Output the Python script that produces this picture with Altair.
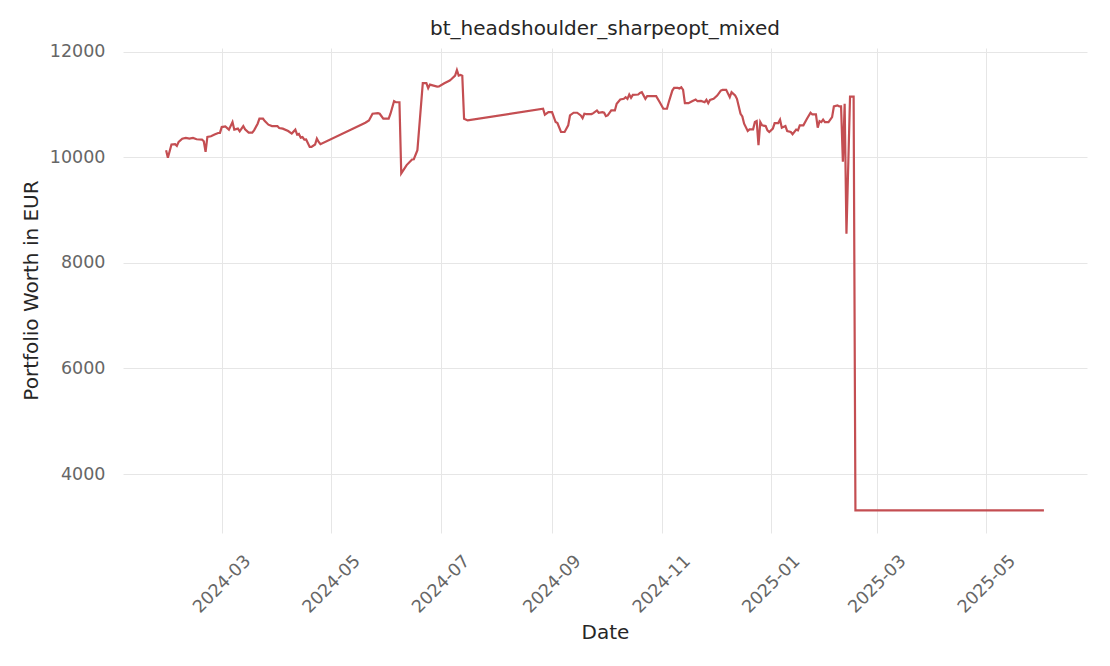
import altair as alt
import pandas as pd

# days relative to 2024-03-01 and portfolio worth in EUR
day_offsets = [
    -31, -30, -28, -26, -25, -24, -22, -20, -18, -16, -14, -11, -10, -9, -8, -6, -4, -2, -1,
    0, 2, 4, 6, 7, 9, 10, 12, 13, 15, 17, 18, 20, 21, 23, 24, 26, 28, 31, 32, 34, 37, 39,
    41, 42, 43, 44, 45, 46, 47, 49, 50, 52, 53, 54, 55,
    80, 82, 84, 87, 88, 90, 93, 94, 96, 97, 99, 100, 103, 106, 107, 109, 112, 114, 115,
    116, 118, 120, 121, 124, 127, 128, 130, 131, 132, 133, 134, 135, 137,
    179, 180, 182, 184, 186, 187, 189, 191, 193, 194, 196, 198, 200, 201, 202, 203, 206,
    207, 209, 210, 212, 213, 214, 215, 217, 219, 220, 222, 224, 225, 226, 227, 228, 229,
    232, 233, 234, 236, 237, 240, 242, 244, 246, 248, 249, 251, 252, 254, 255, 256, 257,
    258, 260, 262, 264, 265, 267, 269, 270, 271, 272, 274, 276, 278, 279, 281, 283, 284,
    286, 287, 289, 290, 291, 293, 294, 296, 297, 298, 299, 300, 301, 303, 304, 305, 307,
    308, 310, 311, 312, 314, 315, 317, 318, 320, 321, 322, 324, 326, 328, 329, 331, 332,
    333, 334, 335, 336, 338, 340, 341, 343, 344, 345, 346, 347, 348, 350, 352, 353, 458,
]
worth = [
    10132, 9990, 10240, 10245, 10213, 10290, 10350, 10363, 10350, 10363, 10339, 10333, 10300, 10100, 10382, 10395, 10427, 10457, 10460,
    10570, 10583, 10521, 10664, 10521, 10540, 10489, 10589, 10527, 10464, 10464, 10508, 10634, 10728, 10728, 10683, 10615, 10589, 10589, 10551, 10540, 10495, 10446,
    10521, 10427, 10440, 10370, 10380, 10333, 10335, 10194, 10194, 10240, 10350, 10288, 10245,
    10653, 10696, 10822, 10834, 10822, 10728, 10728, 10822, 11060, 11040, 11040, 9693, 9850, 9956, 9960, 10132, 11400, 11400, 11305,
    11374, 11355, 11336, 11340, 11400, 11450, 11480, 11543, 11650, 11543, 11556, 11543, 10728, 10696,
    10917, 10804, 10853, 10853, 10664, 10646, 10476, 10476, 10602, 10790, 10841, 10841, 10790, 10740, 10822, 10816, 10816,
    10834, 10884, 10841, 10853, 10841, 10778, 10790, 10884, 10884, 11010, 11092, 11105, 11135, 11105, 11186, 11123, 11180,
    11186, 11218, 11230, 11105, 11154, 11154, 11154, 11040, 10917, 10917, 11040, 11261, 11312, 11312, 11300, 11324, 11274,
    11022, 11022, 11060, 11092, 11060, 11065, 11040, 11085, 11022, 11085, 11105, 11167, 11261, 11274, 11274, 11135, 11230,
    11167, 11105, 10822, 10771, 10634, 10495, 10527, 10527, 10664, 10683, 10226, 10664, 10602, 10589, 10508, 10476, 10540,
    10646, 10646, 10710, 10558, 10589, 10495, 10476, 10433, 10521, 10508, 10602, 10602, 10728, 10841, 10809, 10809, 10558,
    10683, 10664, 10710, 10664, 10664, 10758, 10960, 10980, 10960, 10960, 9912, 11010, 8550, 11148, 11148, 3310, 3310,
]

dates = pd.Timestamp("2024-03-01") + pd.to_timedelta(day_offsets, unit="D")
df = pd.DataFrame({"Date": dates, "Worth": worth})

tick_dates = [
    alt.DateTime(year=y, month=m, date=1)
    for y, m in [(2024, 3), (2024, 5), (2024, 7), (2024, 9), (2024, 11), (2025, 1), (2025, 3), (2025, 5)]
]

FONT = "DejaVu Sans"

chart = (
    alt.Chart(df)
    .mark_line(color="#c44e52", strokeWidth=2.2)
    .encode(
        x=alt.X(
            "Date:T",
            title="Date",
            scale=alt.Scale(
                domain=[alt.DateTime(year=2024, month=1, date=6), alt.DateTime(year=2025, month=6, date=26)],
                nice=False,
            ),
            axis=alt.Axis(
                values=tick_dates,
                format="%Y-%m",
                labelAngle=315,
                labelAlign="center",
                labelBaseline="middle",
                labelPadding=51,
                ticks=False,
                domain=False,
                grid=True,
                gridColor="#e6e6e6",
                labelFont=FONT,
                labelFontSize=17.5,
                labelColor="#666666",
                titleFont=FONT,
                titleFontSize=20,
                titleFontWeight="normal",
                titleColor="#262626",
                titleX=482,
                titleY=99,
                titleBaseline="middle",
                titleAlign="center",
            ),
        ),
        y=alt.Y(
            "Worth:Q",
            title="Portfolio Worth in EUR",
            scale=alt.Scale(domain=[2883, 12067], nice=False, zero=False),
            axis=alt.Axis(
                values=[4000, 6000, 8000, 10000, 12000],
                format="d",
                ticks=False,
                domain=False,
                grid=True,
                gridColor="#e6e6e6",
                labelPadding=18,
                labelFont=FONT,
                labelFontSize=17.5,
                labelColor="#666666",
                titleFont=FONT,
                titleFontSize=20,
                titleFontWeight="normal",
                titleColor="#262626",
                titleAngle=270,
                titleX=-92,
                titleY=242,
                titleBaseline="middle",
                titleAlign="center",
            ),
        ),
    )
    .properties(
        width=964,
        height=485,
        title=alt.TitleParams(
            "bt_headshoulder_sharpeopt_mixed",
            font=FONT,
            fontSize=20,
            fontWeight="normal",
            color="#262626",
            anchor="middle",
            offset=4,
        ),
        autosize="none",
        padding={"left": 115, "top": 40, "right": 15, "bottom": 110},
        background="white",
    )
    .configure_view(stroke=None)
)

chart.save("out.html", embed_options={"renderer": "svg", "actions": False})
